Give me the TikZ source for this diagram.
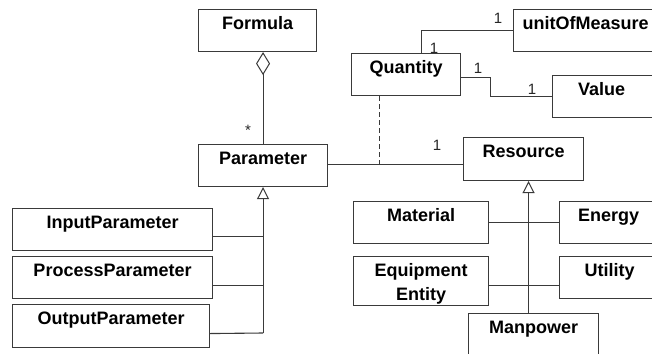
\documentclass[tikz,border=0pt]{standalone}
\usepackage{fontspec}
\setmainfont{Liberation Sans}
\usetikzlibrary{arrows.meta,calc}
\definecolor{linec}{HTML}{3A3A3A}
\tikzset{
  cls/.style={draw=linec, line width=1.1pt, inner sep=0pt, anchor=north west,
    font=\bfseries\fontsize{18}{24}\selectfont, text height=20pt, text depth=22pt},
  conn/.style={draw=linec, line width=1.1pt},
  mult/.style={font=\fontsize{15}{17}\selectfont, inner sep=0pt, text=black!85},
  gen/.style={-{Triangle[open, length=12pt, width=12pt, line width=1pt]}},
  agg/.style={{Diamond[open, length=23pt, width=14pt, line width=1pt]}-}
}
\begin{document}
\begin{tikzpicture}[x=1pt,y=-1pt]
\useasboundingbox (0,0) rectangle (652,353);
\fill[white] (0,0) rectangle (652,353);
\clip (0,0) rectangle (652,353);
% classes
\node[cls, minimum width=118pt] (form) at (198,9) {Formula};
\node[cls, minimum width=129pt] (par) at (198,144) {Parameter};
\node[cls, minimum width=200pt] (ip) at (12,208) {InputParameter};
\node[cls, minimum width=200pt] (pp) at (12,256) {ProcessParameter};
\node[cls, minimum width=197pt, text depth=23pt] (op) at (12,304) {OutputParameter};
\node[cls, minimum width=109pt] (q) at (351,53) {Quantity};
\node[cls, minimum width=144pt, text depth=22pt] (u) at (513,9) {unitOfMeasure};
\node[cls, minimum width=108pt] (v) at (552,75) {\hspace*{-10pt}Value};
\node[cls, minimum width=120pt, text depth=23pt] (res) at (463,137) {Resource};
\node[cls, minimum width=135pt] (mat) at (353,201) {Material};
\node[cls, minimum width=98pt] (en) at (559,201) {Energy};
\node[cls, minimum width=135pt, align=center, text height=44pt, text depth=5pt] (eq) at (353,256) {Equipment\\Entity};
\node[cls, minimum width=100pt] (ut) at (559,256) {Utility};
\node[cls, minimum width=130pt, text depth=30pt] (man) at (468,313) {Manpower};
% aggregation
\draw[conn, agg] (form.south -| par.south) -- (par.north);
\node[mult] (star) at (248,130) {*};
% generalization of Parameter
\coordinate (pj) at (par.south |- 0,333);
\draw[conn, gen] (pj) -- (par.south);
\draw[conn] ([yshift=-7pt]ip.east) -- ([yshift=-7pt]ip.east -| pj);
\draw[conn] ([yshift=-8pt]pp.east) -- ([yshift=-8pt]pp.east -| pj);
\draw[conn] ([yshift=-7.5pt]op.east) -- (pj);
% generalization of Resource
\coordinate (rs) at ([xshift=5pt]res.south);
\draw[conn, gen] (man.north -| rs) -- (rs);
\draw[conn] (mat.east) -- (mat.east -| en.west);
\draw[conn] ([yshift=-4pt]eq.east) -- ([yshift=-4pt]eq.east -| ut.west);
% association Parameter - Resource
\coordinate (pr) at ([yshift=1pt]par.east);
\draw[conn] (pr) -- (pr -| res.west);
\node[mult] (m1) at (437,145) {1};
% dashed association class link
\coordinate (dq) at (379.5,0);
\draw[conn, dashed, dash pattern=on 5pt off 3pt] (dq |- q.south) -- (dq |- pr);
% Quantity - unitOfMeasure
\coordinate (qu) at (421.2,0);
\draw[conn] (qu |- q.north) -- (qu |- u.west) -- (u.west);
\node[mult] (m2) at (498,18) {1};
\node[mult] (m3) at (434,48) {1};
% Quantity - Value
\coordinate (qv) at ([yshift=-3pt]q.east);
\draw[conn] (qv) -- ++(29,0) |- (v.west);
\node[mult] (m4) at (478,68) {1};
\node[mult] (m5) at (532,89) {1};
\end{tikzpicture}
\end{document}
